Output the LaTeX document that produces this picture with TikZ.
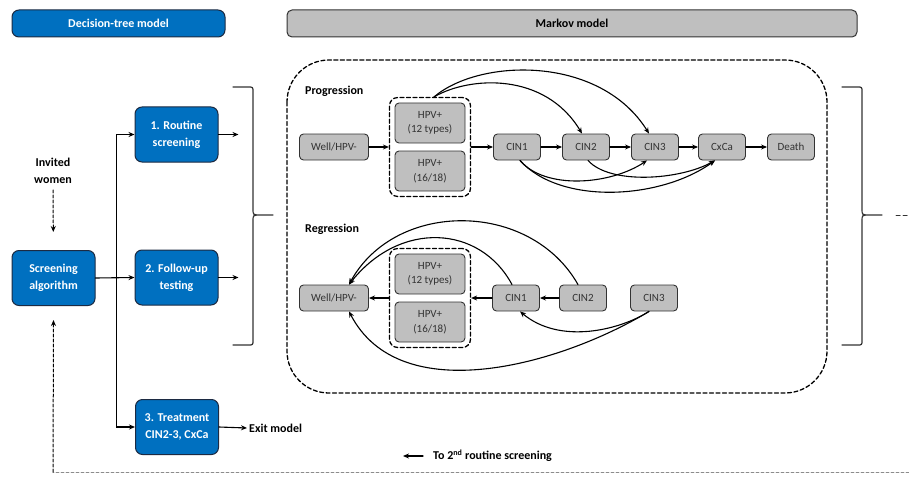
\documentclass[tikz,border=0pt]{standalone}
\usepackage{fontspec}
\setmainfont{Carlito}
\usetikzlibrary{fit,calc,arrows.meta}
\definecolor{dtblue}{RGB}{0,112,192}
\definecolor{dtedge}{RGB}{28,42,66}
\definecolor{stgray}{RGB}{191,191,191}

\begin{document}
\begin{tikzpicture}[>={Stealth[length=6pt,width=5pt]},x=1pt,y=-1pt,line cap=round,
				dtbox/.style={draw=dtedge,fill=dtblue,line width=1pt,rounded corners=7pt,text=white,
					font=\fontsize{12}{17}\selectfont\bfseries,align=center,
					minimum width=83pt,minimum height=55pt,inner sep=2pt},
				mkhdr/.style={draw=black!80,fill=stgray,line width=1pt,rounded corners=5pt,
					font=\fontsize{12}{14}\selectfont\bfseries,minimum width=570pt,minimum height=27pt},
				state/.style={draw=black!80,fill=stgray,line width=0.9pt,rounded corners=4pt,text=black!80,
					font=\fontsize{11}{14.5}\selectfont,align=center,minimum width=47pt,minimum height=26pt,inner sep=1pt},
				grp/.style={draw,line width=1.3pt,dash pattern=on 4pt off 2.5pt,rounded corners=8pt,inner sep=5pt},
				lbl/.style={font=\fontsize{12}{17}\selectfont\bfseries,align=center,inner sep=2pt},
				flow/.style={->,line width=1.1pt},
				brc/.style={line width=1.2pt,black!80}]
				\useasboundingbox (0,0) rectangle (909,476);
				
				% headers
				\node[dtbox,minimum width=213pt,minimum height=27pt] (dthead) at (118.5,23.5) {Decision-tree model};
				\node[mkhdr] (mkhead) at (572,23.5) {Markov model};
				
				% decision tree
				\node[lbl] (inv) at (53,171) {Invited\\women};
				\node[dtbox] (scr) at (53.5,278) {Screening\\algorithm};
				\node[dtbox] (b1) at (176.5,134.5) {1. Routine\\screening};
				\node[dtbox] (b2) at (176.5,277.5) {2. Follow-up\\testing};
				\node[dtbox] (b3) at (177,427) {3. Treatment\\CIN2-3, CxCa};
				\node[lbl,anchor=west] (exit) at (247,428) {Exit model};
				\node[lbl,anchor=west] (ret) at (431,456) {To 2\textsuperscript{nd} routine screening};
				
				\draw[->,line width=1pt,dash pattern=on 3pt off 2pt,shorten >=18pt,shorten <=4pt] (inv) -- (scr);
				\draw[flow] (scr.east) -- (b2.west);
				\draw[<->,line width=1.1pt] (b1.west) -- ++(-18,0) |- (b3.west);
				\foreach \b in {b1,b2}
				{\draw[flow] (\b.east) -- ++(20,0);}
				\draw[flow] (b3.east) -- (exit.west);
				\draw[flow] ([xshift=-8pt]ret.west) -- ++(-20,0);
				
				% return to screening
				\coordinate (rtn) at (53,472);
				\draw[black!45,line width=0.8pt,dash pattern=on 3pt off 2pt] (909,472) -- (rtn);
				\draw[->,line width=1pt,dash pattern=on 3pt off 2pt] (rtn) -- ([yshift=-14pt]scr.south);
				
				% braces
				\foreach \bx in {253,862}
				{\draw[brc] (\bx-20,87) -- (\bx-5,87) .. controls (\bx,87) .. (\bx,92) -- (\bx,209)
					.. controls (\bx,215) .. (\bx+8,215) -- (\bx+20,215)
					(\bx+8,215) .. controls (\bx,215) .. (\bx,221) -- (\bx,340)
					.. controls (\bx,345) .. (\bx-5,345) -- (\bx-20,345);}
				\draw[line width=1pt,black!80,dash pattern=on 4pt off 3pt] (896,215) -- (909,215);
				
				% markov frame
				\draw[line width=1.3pt,dash pattern=on 4pt off 2.5pt,rounded corners=42pt] (287,60) rectangle (827,393);
				
				% progression
				\node[lbl,anchor=west] (prog) at (303,91) {Progression};
				\node[state,minimum width=69pt] (pw) at (334,147) {Well/HPV-};
				\node[state,minimum width=70pt,minimum height=40pt] (p12) at (430,123) {HPV+\\(12 types)};
				\node[state,minimum width=70pt,minimum height=40pt] (p16) at (430,171) {HPV+\\(16/18)};
				\node[grp,fit=(p12)(p16)] (pgrp) {};
				\foreach \n/\X/\t in {pc1/517/CIN1,pc2/586/CIN2,pc3/655/CIN3,pcx/722/CxCa,pd/791/Death}
				{\node[state] (\n) at (\X,147) {\t};}
				\foreach \a/\b in {pw/pgrp,pgrp/pc1,pc1/pc2,pc2/pc3,pc3/pcx,pcx/pd}
				{\draw[flow] (\a.east) -- (\b.west);}
				\draw[flow] ([xshift=4pt]pgrp.north) .. controls (470,76) and (545,72) .. ([xshift=-4pt]pc2.north);
				\draw[flow] ([xshift=4pt]pgrp.north) .. controls (480,58) and (600,55) .. ([xshift=-6pt]pc3.north);
				\draw[flow] ([xshift=3pt]pc1.south) .. controls (545,190) and (610,185) .. ([xshift=-8pt]pc3.south);
				\draw[flow] ([xshift=3pt]pc1.south) .. controls (560,205) and (660,200) .. ([xshift=-7pt]pcx.south);
				\draw[flow] ([xshift=2pt]pc2.south) .. controls (610,185) and (680,180) .. ([xshift=-7pt]pcx.south);
				
				% regression
				\node[lbl,anchor=west] (regr) at (303,229) {Regression};
				\node[state,minimum width=69pt] (rw) at (334,298) {Well/HPV-};
				\node[state,minimum width=70pt,minimum height=40pt] (r12) at (430,274) {HPV+\\(12 types)};
				\node[state,minimum width=70pt,minimum height=40pt] (r16) at (430,322) {HPV+\\(16/18)};
				\node[grp,fit=(r12)(r16)] (rgrp) {};
				\foreach \n/\X/\t in {rc1/516/CIN1,rc2/583/CIN2,rc3/654/CIN3}
				{\node[state] (\n) at (\X,298) {\t};}
				\foreach \a/\b in {rc2/rc1,rc1/rgrp,rgrp/rw}
				{\draw[flow] (\a.west) -- (\b.east);}
				\draw[flow] ([xshift=-4pt]rc1.north) .. controls (480,225) and (400,220) .. ([xshift=15pt]rw.north);
				\draw[flow] ([xshift=-5pt]rc2.north) .. controls (530,200) and (395,200) .. ([xshift=15pt]rw.north);
				\draw[flow] ([xshift=-5pt]rc3.south) .. controls (620,330) and (560,345) .. ([xshift=4pt]rc1.south);
				\draw[flow] ([xshift=-5pt]rc3.south) .. controls (560,365) and (400,410) .. ([xshift=15pt]rw.south);
			\end{tikzpicture}
\end{document}
